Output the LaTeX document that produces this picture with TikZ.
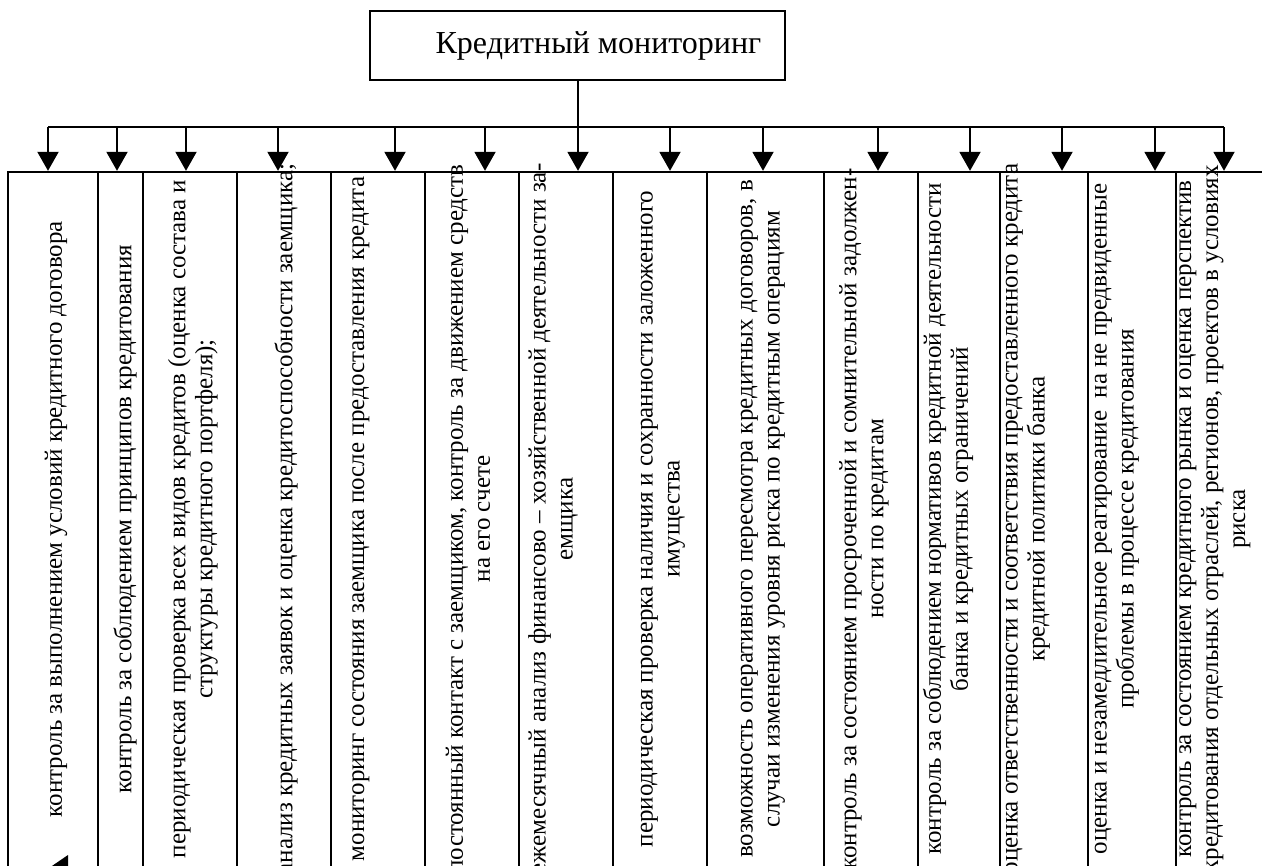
\documentclass[tikz,border=0pt]{standalone}
\usepackage{fontspec}
\setmainfont{Liberation Serif}
\usetikzlibrary{arrows.meta, fit}

\tikzset{
  titlebox/.style={draw, line width=1pt, inner sep=0pt, minimum width=207.5pt, minimum height=34.5pt, font=\fontsize{16}{19}\selectfont},
  colbox/.style={draw, line width=1.2pt, inner sep=0pt},
  coltext/.style={rotate=90, align=center, inner sep=0pt, font=\fontsize{12.5}{13.5}\selectfont},
  link/.style={line width=1pt},
  arr/.style={line width=1pt, -{Triangle[length=9.5pt, width=10.5pt]}},
}

\begin{document}
\begin{tikzpicture}[x=0.5pt, y=-0.5pt]
        \useasboundingbox (0,0) rectangle (1262,866);
        \clip (0,0) rectangle (1262,866);

        \node[titlebox] at (577.5, 45.5) (title) {\hspace*{21pt}Кредитный мониторинг};

        % columns
        \node[colbox, fit={(8,172) (98,870)}] (b1) {};
        \node[colbox, fit={(98,172) (143,870)}] (b2) {};
        \node[colbox, fit={(143,172) (237,870)}] (b3) {};
        \node[colbox, fit={(237,172) (331,870)}] (b4) {};
        \node[colbox, fit={(331,172) (425,870)}] (b5) {};
        \node[colbox, fit={(425,172) (519,870)}] (b6) {};
        \node[colbox, fit={(519,172) (613,870)}] (b7) {};
        \node[colbox, fit={(613,172) (707,870)}] (b8) {};
        \node[colbox, fit={(707,172) (824,870)}] (b9) {};
        \node[colbox, fit={(824,172) (918,870)}] (b10) {};
        \node[colbox, fit={(918,172) (1000,870)}] (b11) {};
        \node[colbox, fit={(1000,172) (1088,870)}] (b12) {};
        \node[colbox, fit={(1088,172) (1176,870)}] (b13) {};
        \node[colbox, fit={(1176,172) (1272,870)}] (b14) {};

        \node[coltext] at (56, 519) (t1) {контроль за выполнением условий кредитного договора};
        \node[coltext] at (125, 519) (t2) {контроль за соблюдением принципов кредитования};
        \node[coltext] at (193, 519) (t3) {периодическая проверка всех видов кредитов (оценка состава и\\ структуры кредитного портфеля);};
        \node[coltext] at (286, 519) (t4) {анализ кредитных заявок и оценка кредитоспособности заемщика;};
        \node[coltext] at (361, 519) (t5) {мониторинг состояния заемщика после предоставления кредита};
        \node[coltext] at (468, 519) (t6) {постоянный контакт с заемщиком, контроль за движением средств\\ на его счете};
        \node[coltext] at (553, 519) (t7) {ежемесячный анализ финансово – хозяйственной деятельности за-\\ емщика};
        \node[coltext] at (663, 519) (t8) {периодическая проверка наличия и сохранности заложенного\\ имущества};
        \node[coltext] at (763, 519) (t9) {возможность оперативного пересмотра кредитных договоров, в\\ случаи изменения уровня риска по кредитным операциям};
        \node[coltext] at (864, 519) (t10) {контроль за состоянием просроченной и сомнительной задолжен-\\ ности по кредитам};
        \node[coltext] at (948, 519) (t11) {контроль за соблюдением нормативов кредитной деятельности\\ банка и кредитных ограничений};
        \node[coltext] at (1028, 519) (t12) {оценка ответственности и соответствия предоставленного кредита\\ кредитной политики банка};
        \node[coltext] at (1117, 519) (t13) {оценка и незамедлительное реагирование~ на не предвиденные\\ проблемы в процессе кредитования};
        \node[coltext] at (1215, 519) (t14) {контроль за состоянием кредитного рынка и оценка перспектив\\ кредитования отдельных отраслей, регионов, проектов в условиях\\ риска};

        % bus and arrows
        \coordinate (a1) at (48,127);   \coordinate (a2) at (117,127);
        \coordinate (a3) at (186,127);  \coordinate (a4) at (278,127);
        \coordinate (a5) at (395,127);  \coordinate (a6) at (485,127);
        \coordinate (a7) at (578,127);  \coordinate (a8) at (670,127);
        \coordinate (a9) at (763,127);  \coordinate (a10) at (878,127);
        \coordinate (a11) at (970,127); \coordinate (a12) at (1062,127);
        \coordinate (a13) at (1155,127); \coordinate (a14) at (1224,127);

        \draw [link] (title.south) -- (title.south |- a7);
        \draw [link] (a1) -- (a14);

        \draw [arr] (a1) -- (a1 |- b1.north);   \draw [arr] (a2) -- (a2 |- b2.north);
        \draw [arr] (a3) -- (a3 |- b3.north);   \draw [arr] (a4) -- (a4 |- b4.north);
        \draw [arr] (a5) -- (a5 |- b5.north);   \draw [arr] (a6) -- (a6 |- b6.north);
        \draw [arr] (a7) -- (a7 |- b7.north);   \draw [arr] (a8) -- (a8 |- b8.north);
        \draw [arr] (a9) -- (a9 |- b9.north);   \draw [arr] (a10) -- (a10 |- b10.north);
        \draw [arr] (a11) -- (a11 |- b11.north); \draw [arr] (a12) -- (a12 |- b12.north);
        \draw [arr] (a13) -- (a13 |- b13.north); \draw [arr] (a14) -- (a14 |- b14.north);

        \fill (49,868) -- (68,855) -- (68,868) -- cycle;
    \end{tikzpicture}
\end{document}
